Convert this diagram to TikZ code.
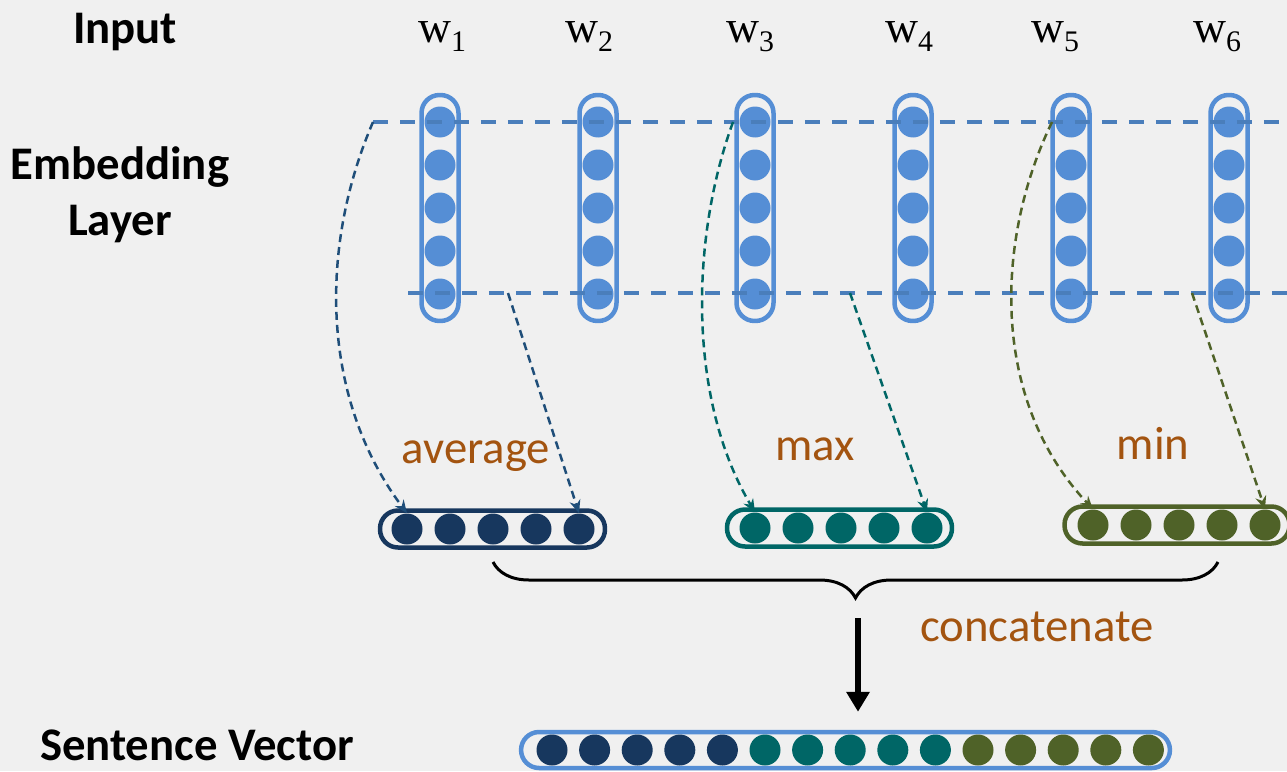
\documentclass[tikz,border=0pt]{standalone}
\usepackage{fontspec}
\setmainfont{Carlito}
\newfontfamily\wfont{Liberation Serif}
\usetikzlibrary{arrows.meta,decorations.pathreplacing}
\definecolor{slide}{HTML}{F0F0F0}
\definecolor{embblue}{HTML}{558ED5}
\definecolor{lineblue}{HTML}{4A7EBB}
\definecolor{avgblue}{HTML}{17375E}
\definecolor{avgline}{HTML}{1F4E79}
\definecolor{maxteal}{HTML}{006666}
\definecolor{minolive}{HTML}{4F6228}
\definecolor{opbrown}{HTML}{A35410}
\tikzset{unit/.style={circle,fill=#1,inner sep=0pt,minimum size=0.62cm},
  col/.style={draw=embblue,line width=0.09cm,rounded corners=0.36cm,minimum width=0.74cm,minimum height=4.52cm},
  vec/.style={draw=#1,line width=0.09cm,rounded corners=0.36cm,minimum width=4.5cm,minimum height=0.74cm},
  rowlabel/.style={font=\fontsize{26.6}{32}\selectfont\bfseries,align=center},
  oplabel/.style={font=\fontsize{26.6}{32}\selectfont,text=opbrown,anchor=base},
  word/.style={font=\fontsize{26}{30}\wfont,anchor=base},
  band/.style={lineblue,line width=0.07cm,dash pattern=on 0.3cm off 0.24cm},
  pool/.style={->,line width=0.05cm,dash pattern=on 0.16cm off 0.1cm}}
\newcommand{\wsub}[1]{w\raisebox{-0.45ex}{\fontsize{17}{20}\selectfont #1}}

\begin{document}
\begin{tikzpicture}[x=0.02cm,y=-0.02cm,>={Stealth[length=0.26cm,width=0.22cm]}]
    \useasboundingbox (0,0) rectangle (1287,771);
    \fill[slide] (0,0) rectangle (1287,771);

    \node[rowlabel] (input) at (125,32) {Input};
    \node[rowlabel] (emb) at (120,195) {Embedding\\Layer};
    \node[rowlabel] (sentlabel) at (197,745) {Sentence Vector};

    \node[word] (w1) at (442,42) {\wsub{1}};
    \node[word] (w2) at (589,42) {\wsub{2}};
    \node[word] (w3) at (750,42) {\wsub{3}};
    \node[word] (w4) at (909,42) {\wsub{4}};
    \node[word] (w5) at (1055,42) {\wsub{5}};
    \node[word] (w6) at (1217,42) {\wsub{6}};

    \foreach \i/\x in {1/440,2/598,3/755,4/913,5/1071,6/1229} {
        \node[col] (c\i) at (\x,208) {};
        \foreach \j/\y in {1/122,2/165,3/208,4/251,5/294}
            \node[unit=embblue] (e\i\j) at (\x,\y) {};
    }

    \coordinate (avgc) at (373,122);
    \coordinate (maxc) at (733,122);
    \coordinate (minc) at (1052,122);
    \coordinate (topend) at (1290,122);
    \coordinate (botstart) at (408,293);
    \coordinate (avgs) at (508,293);
    \coordinate (maxs) at (850,293);
    \coordinate (mins) at (1192,293);
    \coordinate (botend) at (1290,293);
    \draw[band] (avgc) -- (topend);
    \draw[band] (botstart) -- (botend);

    \node[vec=avgblue] (avg) at (492.5,529) {};
    \node[vec=maxteal] (max) at (839.5,528) {};
    \node[vec=minolive] (min) at (1177,525) {};
    \foreach \k in {1,...,5} {
        \node[unit=avgblue] (a\k) at ({407+43*(\k-1)},529) {};
        \node[unit=maxteal] (m\k) at ({755+43*(\k-1)},528) {};
        \node[unit=minolive] (n\k) at ({1093+43*(\k-1)},525) {};
    }

    \draw[pool,avgline] (avgc) .. controls (318,250) and (322,400) .. (a1.north);
    \draw[pool,avgline] (avgs) -- (a5.north);
    \draw[pool,maxteal] (maxc) .. controls (690,240) and (688,400) .. (m1.north);
    \draw[pool,maxteal] (maxs) -- (m5.north);
    \draw[pool,minolive] (minc) .. controls (995,240) and (990,400) .. (n1.north);
    \draw[pool,minolive] (mins) -- (n5.north);

    \node[oplabel] (avglabel) at (476,463) {average};
    \node[oplabel] (maxlabel) at (815,460) {max};
    \node[oplabel] (minlabel) at (1153,459) {min};

    \coordinate (bl) at (493,562);
    \coordinate (br) at (1218,562);
    \draw[line width=0.06cm,decorate,decoration={brace,amplitude=0.72cm}] (br) -- (bl);
    \node[oplabel] (catlabel) at (1037,641) {concatenate};

    \node[vec=embblue,minimum width=12.98cm,minimum height=0.72cm] (sent) at (845.5,750) {};
    \foreach \k in {0,...,4} {
        \node[unit=avgblue] (s\k) at ({552+42.6*\k},750) {};
        \node[unit=maxteal] (t\k) at ({765+42.6*\k},750) {};
        \node[unit=minolive] (u\k) at ({978+42.6*\k},750) {};
    }
    \coordinate (cat) at (858,618);
    \draw[line width=0.12cm,-{Triangle[length=0.4cm,width=0.45cm]},shorten >=0.36cm] (cat) -- (cat |- sent.north);
\end{tikzpicture}
\end{document}
